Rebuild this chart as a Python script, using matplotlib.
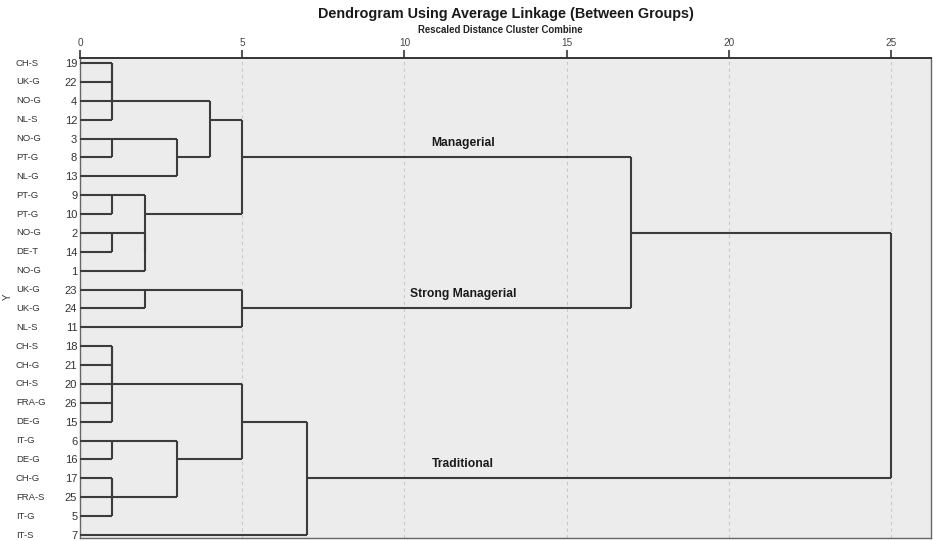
import matplotlib
matplotlib.use("Agg")
import matplotlib.pyplot as plt

# ---- data ----
case_numbers = [19, 22, 4, 12, 3, 8, 13, 9, 10, 2, 14, 1, 23, 24, 11,
                18, 21, 20, 26, 15, 6, 16, 17, 25, 5, 7]
case_labels = ["CH-S", "UK-G", "NO-G", "NL-S", "NO-G", "PT-G", "NL-G", "PT-G",
               "PT-G", "NO-G", "DE-T", "NO-G", "UK-G", "UK-G", "NL-S", "CH-S",
               "CH-G", "CH-S", "FRA-G", "DE-G", "IT-G", "DE-G", "CH-G", "FRA-S",
               "IT-G", "IT-S"]
# merges: (child_a, child_b, rescaled distance); children are case numbers (int)
# or names of earlier merges (str).
merge_names = ["a1", "a2", "a3", "b1", "b2", "c1", "c2", "c3", "c4", "d1", "M",
               "e1", "S", "MS",
               "f1", "f2", "f3", "f4", "g1", "h1", "h2", "gh", "fgh", "T", "ALL"]
merge_a = [19, "a1", "a2", 3, "b1", 9, 2, "c2", "c1", "a3", "d1",
           23, "e1", "M",
           18, "f1", 26, "f2", 6, 17, "h1", "g1", "f4", "fgh", "MS"]
merge_b = [22, 4, 12, 8, 13, 10, 14, 1, "c3", "b2", "c4",
           24, 11, "S",
           21, 20, 15, "f3", 16, 25, 5, "h2", "gh", 7, "T"]
merge_h = [1, 1, 1, 1, 3, 1, 1, 2, 2, 4, 5,
           2, 5, 17,
           1, 1, 1, 1, 1, 1, 1, 3, 5, 7, 25]
group_labels = {"M": "Managerial", "S": "Strong Managerial", "T": "Traditional"}
group_label_x = 11.8
title = "Dendrogram Using Average Linkage (Between Groups)"
subtitle = "Rescaled Distance Cluster Combine"
xticks = [0, 5, 10, 15, 20, 25]

# ---- layout ----
W, H = 933, 541
fig = plt.figure(figsize=(W / 100, H / 100), dpi=100)
fig.patch.set_facecolor("white")
ax_left, ax_right, ax_top, ax_bot = 80, 931, 58, 538
ax = fig.add_axes([ax_left / W, 1 - ax_bot / H, (ax_right - ax_left) / W,
                   (ax_bot - ax_top) / H])
ax.set_facecolor("#ececec")
px_per_unit = (891 - 80) / 25.0
ax.set_xlim(0, (ax_right - ax_left) / px_per_unit)
row_px = (535 - 63) / 25.0
ax.set_ylim(25 + (ax_bot - 535) / row_px, -(63 - ax_top) / row_px)

line_kw = dict(color="#3c3c3c", lw=1.5, solid_capstyle="butt", zorder=3)

pos = {c: i for i, c in enumerate(case_numbers)}
height = {c: 0.0 for c in case_numbers}

for name, a, b, h in zip(merge_names, merge_a, merge_b, merge_h):
    pa, pb = pos[a], pos[b]
    ax.plot([height[a], h], [pa, pa], **line_kw)
    ax.plot([height[b], h], [pb, pb], **line_kw)
    ax.plot([h, h], [min(pa, pb), max(pa, pb)], **line_kw)
    pos[name] = (pa + pb) // 2
    height[name] = h

for key, text in group_labels.items():
    ax.text(group_label_x, pos[key] - 0.45, text, ha="center", va="bottom",
            fontsize=8.7, fontweight="bold", color="#1a1a1a",
            family="Liberation Sans")

# gridlines
for t in xticks[1:]:
    ax.axvline(t, color="#c8c8c8", lw=0.8, ls=(0, (3, 3)), zorder=1)

ax.xaxis.tick_top()
ax.set_xticks(xticks)
ax.set_xticklabels([str(t) for t in xticks], fontsize=7.2, color="#444444",
                   family="Liberation Sans")
ax.tick_params(axis="x", direction="out", length=6, width=1.2, color="#333333",
               pad=1)
ax.set_yticks(range(len(case_numbers)))
ax.set_yticklabels([str(c) for c in case_numbers], fontsize=8,
                   color="#333333", family="Liberation Sans")
ax.tick_params(axis="y", length=0, pad=2)

ax.spines["top"].set_color("#333333")
ax.spines["top"].set_linewidth(1.4)
for s in ["left", "right", "bottom"]:
    ax.spines[s].set_color("#666666")
    ax.spines[s].set_linewidth(1.0)

for i, lab in enumerate(case_labels):
    y_fig = 1 - (63 + i * row_px) / H
    fig.text(16 / W, y_fig, lab, ha="left", va="center", fontsize=6.8,
             color="#333333", family="Liberation Sans")

fig.text(8 / W, 1 - 297 / H, "Y", rotation=90, ha="center", va="center",
         fontsize=7, color="#333333", family="Liberation Sans")

fig.text(506 / W, 1 - 14 / H, title, ha="center", va="center", fontsize=10.4,
         fontweight="bold", color="#1a1a1a", family="Liberation Sans")
fig.text(500 / W, 1 - 30 / H, subtitle, ha="center", va="center", fontsize=6.9,
         fontweight="bold", color="#222222", family="Liberation Sans")

fig.savefig("out.png", dpi=100)
